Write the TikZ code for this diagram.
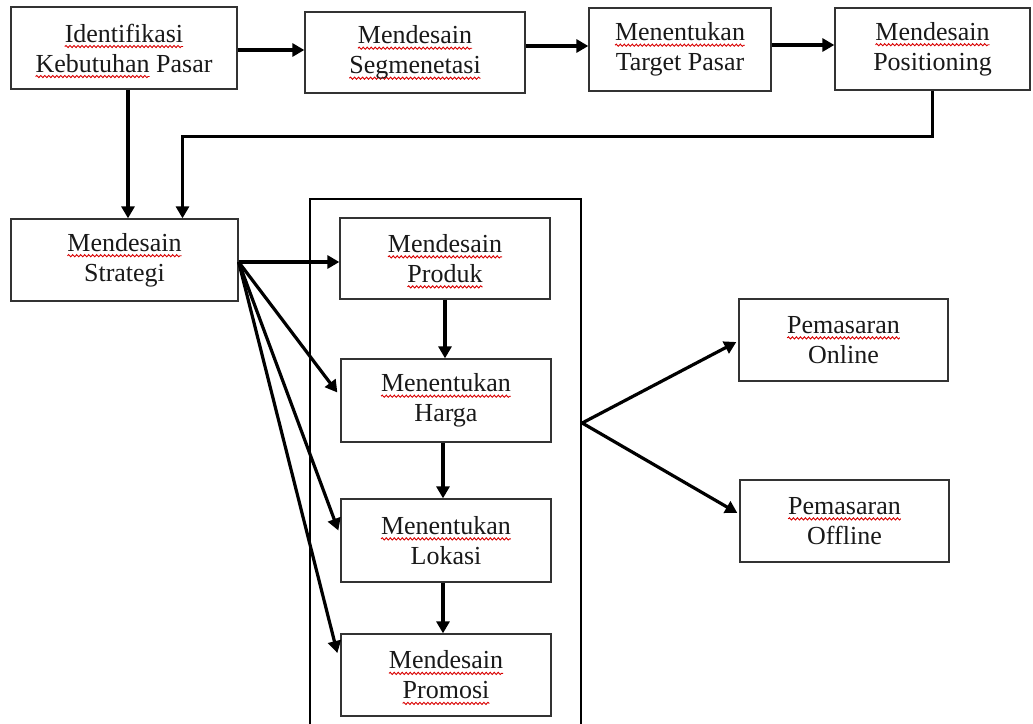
\documentclass[tikz,border=0pt]{standalone}
\usepackage{fontspec}
\setmainfont{Liberation Serif}
\usetikzlibrary{arrows.meta,calc,decorations.pathmorphing}
\newcommand\rw[1]{\setbox0=\hbox{#1}\leavevmode\tikz[overlay,baseline=0pt,x=1pt,y=1pt]{\draw[draw=red!85!black,line width=0.9pt,decorate,decoration={snake,amplitude=1.1pt,segment length=4pt}] (0,-4.5) -- (\the\wd0,-4.5);}\box0\relax}
\tikzset{
  box/.style={draw=black!80, line width=1.3pt, inner sep=0pt, align=center,
    text=black!90, font=\fontsize{26}{30}\selectfont},
  arr/.style={line width=3.2pt, line join=miter, -{Triangle[length=12pt,width=13pt]}},
  grpbox/.style={draw, line width=2.4pt, inner sep=0pt},
}
\begin{document}
\begin{tikzpicture}[x=1pt,y=-1pt]
\useasboundingbox[fill=white] (0,0) rectangle (1033,723);
% top row
\node[box, minimum width=226pt, minimum height=82pt] (b1) at (124,48) {\rw{Identifikasi}\\\rw{Kebutuhan} Pasar};
\node[box, minimum width=220pt, minimum height=81pt] (b2) at (415,52.5) {\rw{Mendesain}\\\rw{Segmenetasi}};
\node[box, minimum width=182pt, minimum height=83pt] (b3) at (680,49.5) {\rw{Menentukan}\\Target Pasar};
\node[box, minimum width=195pt, minimum height=82pt] (b4) at (932.5,49) {\rw{Mendesain}\\Positioning};
% strategy
\node[box, minimum width=227pt, minimum height=82pt] (str) at (124.5,260) {\rw{Mendesain}\\Strategi};
% group container
\node[grpbox, minimum width=271pt, minimum height=530pt] (grp) at (445.5,464) {};
\node[box, minimum width=210pt, minimum height=81pt] (pro) at (445,258.5) {\rw{Mendesain}\\\rw{Produk}};
\node[box, minimum width=210pt, minimum height=83pt] (har) at (446,400.5) {\rw{Menentukan}\\Harga};
\node[box, minimum width=210pt, minimum height=83pt] (lok) at (446,540.5) {\rw{Menentukan}\\Lokasi};
\node[box, minimum width=210pt, minimum height=82pt] (prm) at (446,675) {\rw{Mendesain}\\\rw{Promosi}};
% outputs
\node[box, minimum width=209pt, minimum height=82pt] (onl) at (843.5,340) {\rw{Pemasaran}\\Online};
\node[box, minimum width=209pt, minimum height=82pt] (off) at (844.5,521) {\rw{Pemasaran}\\Offline};
\coordinate (j) at ([yshift=41pt]grp.east);
% connectors top row
\draw[arr] (b1.east |- 0,50) -- (b2.west |- 0,50);
\draw[arr] (b2.east |- 0,46) -- (b3.west |- 0,46);
\draw[arr] (b3.east |- 0,45) -- (b4.west |- 0,45);
\draw[arr] ([xshift=4pt]b1.south) -- ([xshift=3.5pt]str.north);
\draw[arr] (b4.south) -- ++(0,46) -| ([xshift=58pt]str.north);
% fan from strategy
\draw[arr] ([yshift=-2pt]str.east) -- ([yshift=-2pt]str.east -| pro.west);
\draw[arr] ([yshift=-2pt]str.east) -- ([xshift=-3pt,yshift=8pt]har.west);
\draw[arr] ([yshift=-2pt]str.east) -- ([xshift=-2pt,yshift=10pt]lok.west);
\draw[arr] ([yshift=-2pt]str.east) -- ([xshift=-3pt,yshift=22pt]prm.west);
% chain
\draw[arr] (pro.south -| 445,0) -- (har.north -| 445,0);
\draw[arr] (har.south -| 443,0) -- (lok.north -| 443,0);
\draw[arr] (lok.south -| 443,0) -- (prm.north -| 443,0);
% outputs
\draw[arr] (j) -- ([xshift=-2pt,yshift=-2pt]onl.west);
\draw[arr] (j) -- ([xshift=-2pt,yshift=8pt]off.west);
\end{tikzpicture}
\end{document}
